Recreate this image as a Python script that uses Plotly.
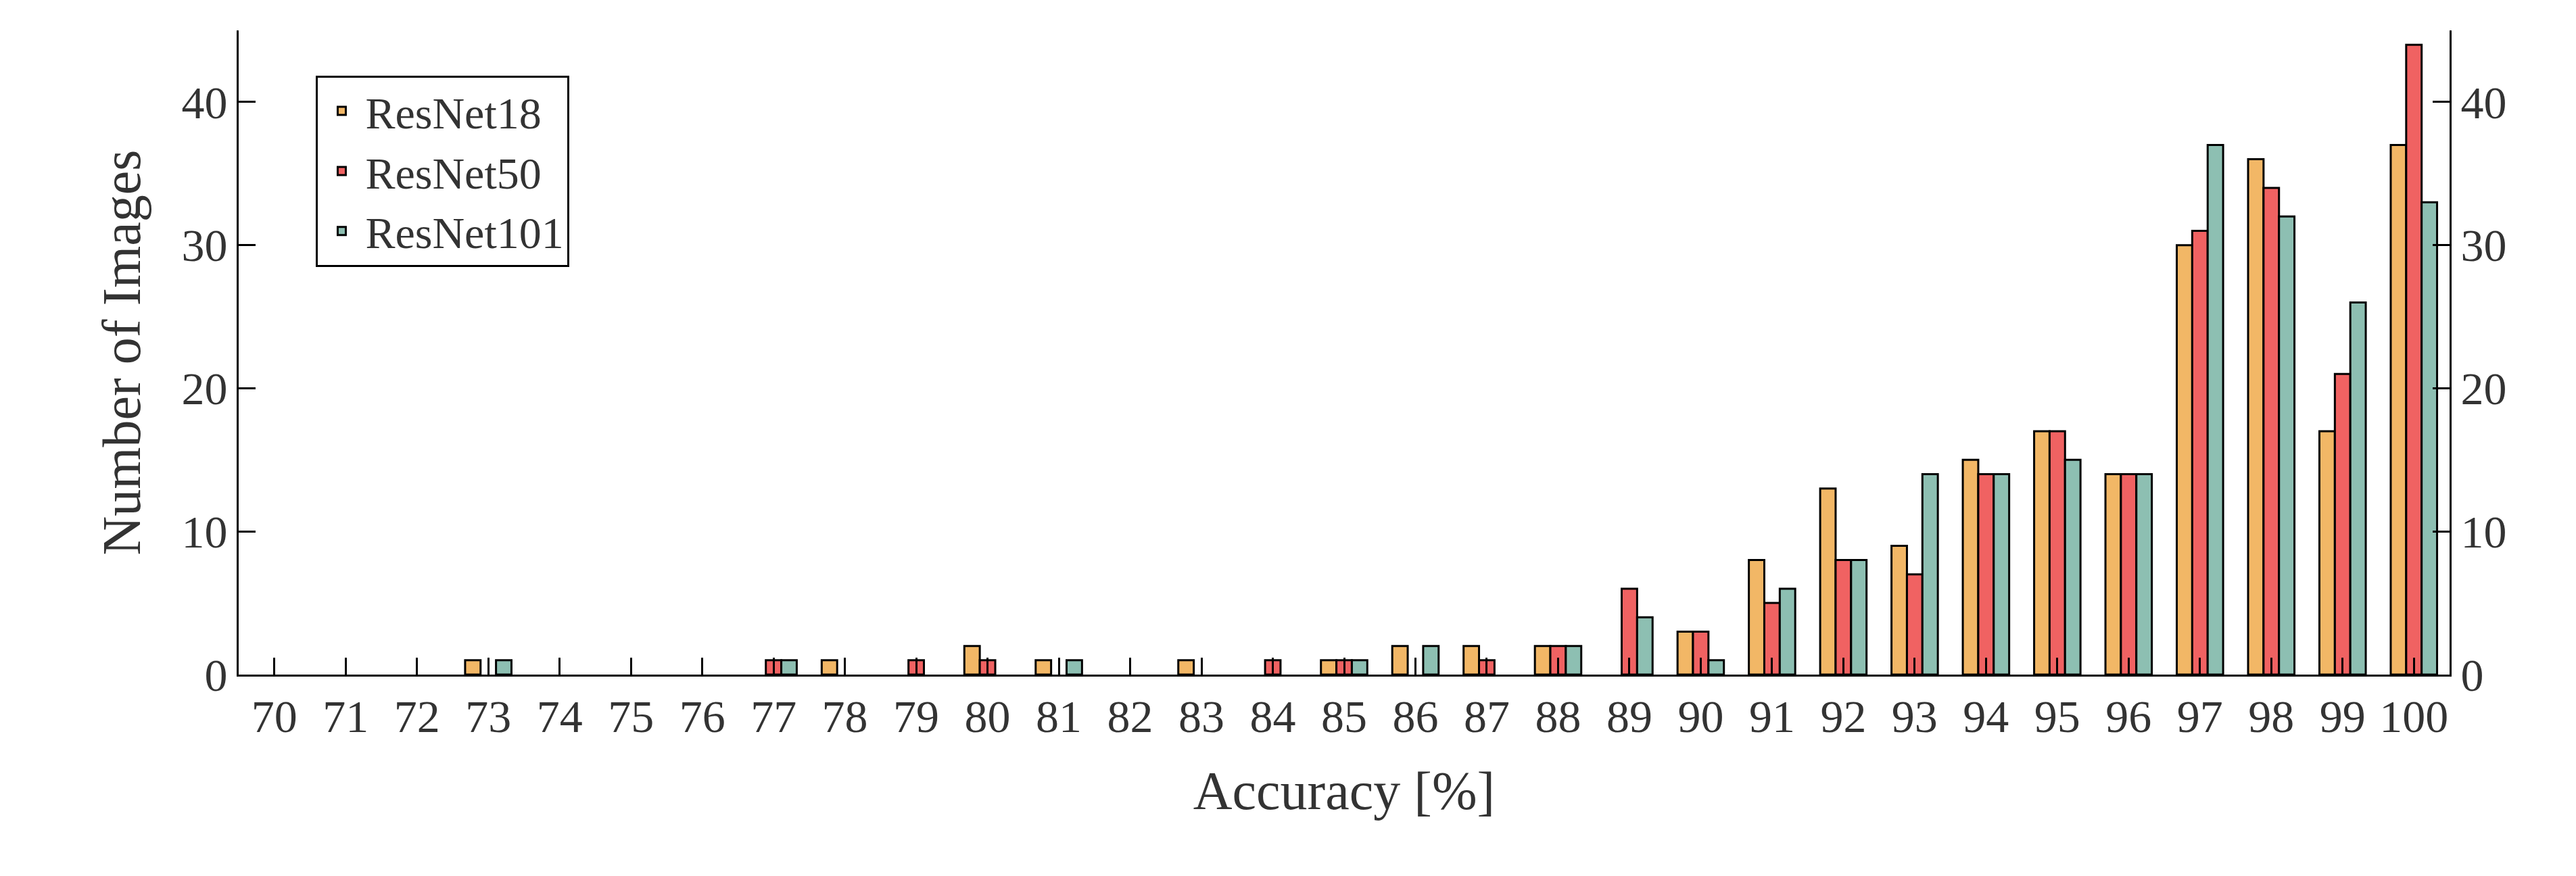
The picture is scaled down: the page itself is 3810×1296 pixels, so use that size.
import plotly.graph_objects as go

accuracy = list(range(70, 101))
resnet18 = [0, 0, 0, 1, 0, 0, 0, 0, 1, 0, 2, 1, 0, 1, 0, 1, 2, 2, 2, 0, 3, 8, 13, 9, 15, 17, 14, 30, 36, 17, 37]
resnet50 = [0, 0, 0, 0, 0, 0, 0, 1, 0, 1, 1, 0, 0, 0, 1, 1, 0, 1, 2, 6, 3, 5, 8, 7, 14, 17, 14, 31, 34, 21, 44]
resnet101 = [0, 0, 0, 1, 0, 0, 0, 1, 0, 0, 0, 1, 0, 0, 0, 1, 2, 0, 2, 4, 1, 6, 8, 14, 14, 15, 14, 37, 32, 26, 33]

series = [
    ("ResNet18", resnet18, "#F2B766"),
    ("ResNet50", resnet50, "#F06262"),
    ("ResNet101", resnet101, "#8DBFB2"),
]

font = "Liberation Serif"
fig = go.Figure()
for name, vals, color in series:
    # empty bins drawn as no bar
    fig.add_trace(go.Bar(x=accuracy, y=[v if v else None for v in vals], name=name,
                         marker_color=color, marker_line_color="black", marker_line_width=3))
# invisible trace for right axis
fig.add_trace(go.Scatter(x=[accuracy[0]], y=[0], yaxis="y2", showlegend=False,
                         mode="markers", marker_opacity=0, hoverinfo="skip"))

axis_common = dict(showline=True, linecolor="black", linewidth=3, ticks="inside",
                   ticklen=25, tickwidth=3, tickcolor="black", showgrid=False,
                   zeroline=False, tickfont=dict(size=68, family=font, color="#333"))
fig.update_layout(
    width=3810, height=1296,
    barmode="group", bargap=0.35, bargroupgap=0,
    plot_bgcolor="white", paper_bgcolor="white",
    margin=dict(l=345, r=195, t=37, b=306),
    font=dict(family=font, size=68, color="#333"),
    xaxis=dict(**axis_common, range=[69.5, 100.5], tickmode="array", tickvals=accuracy,
               title=dict(text="Accuracy [%]", font=dict(size=80), standoff=45)),
    yaxis=dict(**axis_common, range=[0, 45], tickvals=[0, 10, 20, 30, 40],
               title=dict(text="Number of Images", font=dict(size=80), standoff=35)),
    yaxis2=dict(**axis_common, range=[0, 45], tickvals=[0, 10, 20, 30, 40],
                overlaying="y", side="right"),
    legend=dict(x=0.035, y=0.93, xanchor="left", yanchor="top", bordercolor="black",
                borderwidth=3, font=dict(size=66), tracegroupgap=0, itemwidth=60),
)
fig.write_html("out.html")
